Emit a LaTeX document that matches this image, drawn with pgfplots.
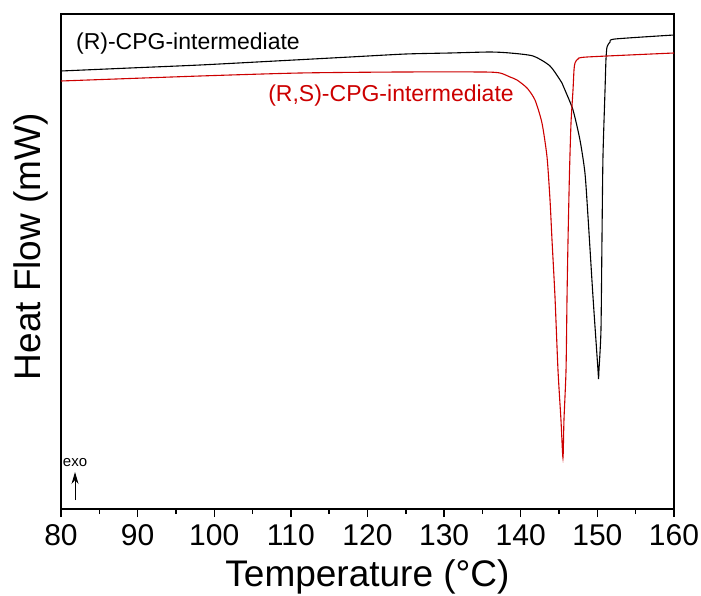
\documentclass[border=0pt]{standalone}
\usepackage{fontspec}
\setmainfont{Liberation Sans}
\usepackage{pgfplots}
\pgfplotsset{compat=1.18}
\usetikzlibrary{arrows.meta}
\definecolor{rsred}{RGB}{204,0,0}
\begin{document}
\begin{tikzpicture}
\begin{axis}[
  name=ax,
  scale only axis,
  width=306.5pt, height=247.5pt,
  xmin=80, xmax=160, ymin=0, ymax=495,
  axis line style={line width=0.9pt},
  ytick=\empty,
  xtick={80,90,...,160},
  minor x tick num=1,
  tick align=outside,
  xtick pos=lower,
  major tick length=4pt,
  minor tick length=2.5pt,
  every tick/.style={line width=0.7pt, black},
  /pgf/number format/assume math mode=true,
  xticklabel style={font=\fontsize{15}{15}\selectfont},
  xlabel={Temperature (°C)},
  ylabel={Heat Flow (mW)},
  xlabel style={font=\fontsize{18.5}{18.5}\selectfont, at={(axis description cs:0.5,0)}, anchor=north, yshift=-22pt},
  ylabel style={font=\fontsize{18.5}{18.5}\selectfont, at={(axis description cs:-0.01,0.53)}, anchor=south},
  clip=false,
]
\addplot[black, line width=0.55pt, smooth, tension=0.4] coordinates {
(80.00,438) (89.00,441) (98.14,444) (108.00,448) (117.72,452) (125.00,455) (130.77,456) (135.99,457) (138.60,456) (141.60,453) (143.82,443) (145.38,426) (145.77,419) (146.82,399) (147.73,369) (148.38,336) (148.78,292) (149.43,212) (150.08,139) (150.15,130) (150.21,139) (150.47,179) (150.60,269) (150.73,352) (151.00,419) (151.12,449) (151.26,462) (151.65,467) (152.30,470) (160.00,474)
};
\addplot[rsred, line width=0.55pt, smooth, tension=0.4] coordinates {
(80.00,428) (98.14,433) (111.19,436) (124.24,437) (135.07,437) (137.29,436) (138.60,432) (139.51,429) (140.82,421) (141.86,409) (142.77,386) (143.43,352) (143.82,309) (144.08,269) (144.47,212) (144.86,139) (145.25,89) (145.51,51) (145.64,89) (145.91,139) (146.04,212) (146.17,269) (146.36,336) (146.56,386) (146.82,419) (146.95,439) (147.08,446) (147.47,450) (148.65,452) (160.00,456)
};
\node[font=\fontsize{11.5}{11.5}\selectfont, black] at (axis cs:96.57,465) {(R)-CPG-intermediate};
\node[font=\fontsize{11.5}{11.5}\selectfont, text=rsred] at (axis cs:123.07,413) {(R,S)-CPG-intermediate};
\node[font=\fontsize{7.5}{7.5}\selectfont, black] at (axis cs:81.83,46) {exo};
\draw[-{Stealth[length=6pt,width=3.5pt]}, line width=0.5pt] (axis cs:81.83,9) -- (axis cs:81.83,37);
\end{axis}
\pgfresetboundingbox
\path (ax.south west) ++(-30.5pt,-43pt) rectangle ++(350.5pt,297.5pt);
\end{tikzpicture}
\end{document}
